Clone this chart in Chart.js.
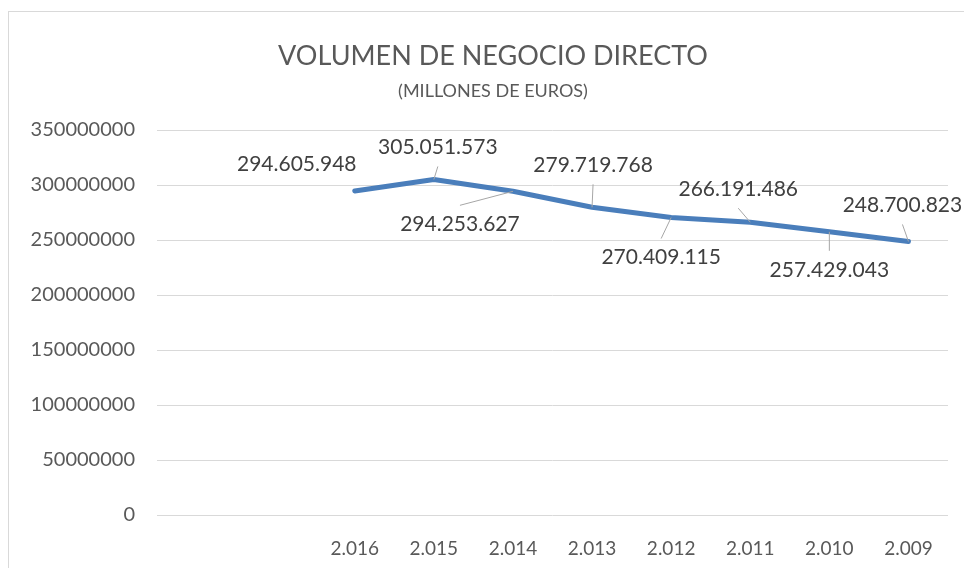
<!DOCTYPE html>
<html>
<head>
<meta charset="utf-8">
<script src="https://cdn.jsdelivr.net/npm/chart.js@4"></script>
<style>
    body { margin: 0; background: #fff; }
    #frame { position: absolute; left: 8px; top: 11px; width: 1000px; height: 600px; border-left: 1px solid #d9d9d9; border-top: 1px solid #d9d9d9; }
    #wrap { position: absolute; left: 0; top: 0; width: 964px; height: 568px; }
</style>
</head>
<body>
<div id="frame"></div>
<div id="wrap"><canvas id="chart"></canvas></div>
<script>
// years as shown on the axis (two empty slots in front, like the original)
const years = ['', '', '2.016', '2.015', '2.014', '2.013', '2.012', '2.011', '2.010', '2.009'];
const volumen = [null, null, 294605948, 305051573, 294253627, 279719768, 270409115, 266191486, 257429043, 248700823];
const yTicks = [0, 50000000, 100000000, 150000000, 200000000, 250000000, 300000000, 350000000];

// label offsets from the point, and whether a leader line is drawn
const labelPos = [null, null, [-58, -27, false], [4, -32, true], [-53, 33, true], [1, -42, true],
    [-10, 40, true], [-12, -33, true], [0, 38, true], [-6, -36, true]];

function fmt(v) {
    return String(v).replace(/\B(?=(\d{3})+(?!\d))/g, '.');
}

const labelPlugin = {
    id: 'pointLabels',
    afterLayout(chart) {
        // title in the original sits a bit right of centre
        chart.boxes.forEach(b => {
            if (!b.axis && b.options && b.options.text) b.left += 38;
        });
    },
    afterDatasetsDraw(chart) {
        const ctx = chart.ctx;
        const meta = chart.getDatasetMeta(0);
        ctx.save();
        ctx.font = '21px Lato';
        ctx.textAlign = 'center';
        ctx.textBaseline = 'middle';
        meta.data.forEach((pt, i) => {
            const v = volumen[i];
            if (v == null) return;
            const [dx, dy, leader] = labelPos[i];
            const cx = pt.x + dx, cy = pt.y + dy;
            if (leader) {
                ctx.strokeStyle = '#a6a6a6';
                ctx.lineWidth = 1;
                ctx.beginPath();
                ctx.moveTo(cx, cy + (dy < 0 ? 19 : -19));
                ctx.lineTo(pt.x, pt.y);
                ctx.stroke();
            }
            ctx.fillStyle = '#404040';
            ctx.fillText(fmt(v), cx, cy);
        });
        ctx.restore();
    }
};

const ctx = document.getElementById('chart').getContext('2d');
new Chart(ctx, {
    type: 'line',
    data: {
        labels: years,
        datasets: [{
            label: 'Volumen',
            data: volumen,
            borderColor: '#4a7ebb',
            backgroundColor: '#4a7ebb',
            borderWidth: 5,
            borderCapStyle: 'round',
            borderJoinStyle: 'round',
            pointRadius: 0,
            tension: 0
        }]
    },
    options: {
        responsive: true,
        maintainAspectRatio: false,
        animation: false,
        layout: { padding: { left: 0, right: 16, top: 0, bottom: 0 } },
        plugins: {
            legend: { display: false },
            tooltip: { enabled: false },
            title: {
                display: true,
                text: 'VOLUMEN DE NEGOCIO DIRECTO',
                color: '#595959',
                font: { family: 'Lato', size: 27, weight: 'normal' },
                padding: { top: 40, bottom: 0 }
            },
            subtitle: {
                display: true,
                text: '(MILLONES DE EUROS)',
                color: '#595959',
                font: { family: 'Lato', size: 18, weight: 'normal' },
                padding: { top: 8, bottom: 28 }
            }
        },
        scales: {
            x: {
                offset: true,
                grid: { display: false },
                border: { display: false },
                ticks: { color: '#595959', font: { family: 'Lato', size: 19 }, padding: 14, maxRotation: 0, autoSkip: false },
                afterFit(scale) { scale.height = 53; }
            },
            y: {
                min: 0,
                max: 350000000,
                grid: { color: '#d9d9d9', lineWidth: 1, drawTicks: false },
                border: { display: false },
                afterBuildTicks(scale) { scale.ticks = yTicks.map(v => ({ value: v })); },
                ticks: { color: '#595959', font: { family: 'Lato', size: 20 }, padding: 22, callback: v => String(v) },
                afterFit(scale) { scale.width = 157; }
            }
        }
    },
    plugins: [labelPlugin]
});
</script>
</body>
</html>
